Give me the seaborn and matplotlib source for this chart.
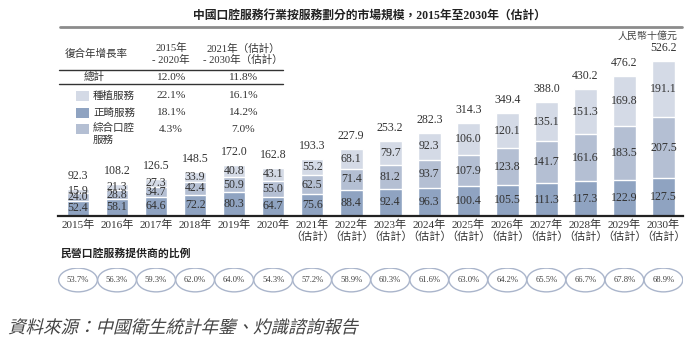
import matplotlib
matplotlib.use("Agg")
import matplotlib.pyplot as plt
import seaborn as sns
import pandas as pd
from matplotlib.patches import Ellipse, Rectangle, PathPatch
from matplotlib.lines import Line2D
from matplotlib.textpath import TextPath
from matplotlib.font_manager import FontProperties
from matplotlib.transforms import Affine2D

# ---- data (RMB billion) ----
years = ["2015年", "2016年", "2017年", "2018年", "2019年", "2020年",
         "2021年\n（估計）", "2022年\n（估計）", "2023年\n（估計）", "2024年\n（估計）",
         "2025年\n（估計）", "2026年\n（估計）", "2027年\n（估計）", "2028年\n（估計）",
         "2029年\n（估計）", "2030年\n（估計）"]
general = [52.4, 58.1, 64.6, 72.2, 80.3, 64.7, 75.6, 88.4, 92.4, 96.3,
           100.4, 105.5, 111.3, 117.3, 122.9, 127.5]
ortho = [24.0, 28.8, 34.7, 42.4, 50.9, 55.0, 62.5, 71.4, 81.2, 93.7,
         107.9, 123.8, 141.7, 161.6, 183.5, 207.5]
implant = [15.9, 21.3, 27.3, 33.9, 40.8, 43.1, 55.2, 68.1, 79.7, 92.3,
           106.0, 120.1, 135.1, 151.3, 169.8, 191.1]
totals = [92.3, 108.2, 126.5, 148.5, 172.0, 162.8, 193.3, 227.9, 253.2, 282.3,
          314.3, 349.4, 388.0, 430.2, 476.2, 526.2]
private_share = ["53.7%", "56.3%", "59.3%", "62.0%", "64.0%", "54.3%", "57.2%", "58.9%",
                 "60.3%", "61.6%", "63.0%", "64.2%", "65.5%", "66.7%", "67.8%", "68.9%"]

cagr_headers = ["2015年\n- 2020年", "2021年（估計）\n- 2030年（估計）"]
cagr_total = ["12.0%", "11.8%"]
segment_names = ["種植服務", "正畸服務", "綜合口腔\n服務"]
cagr_segments = [["22.1%", "16.1%"], ["18.1%", "14.2%"], ["4.3%", "7.0%"]]

C_LIGHT = "#d4dae6"
C_MID = "#b4bfd3"
C_DARK = "#8fa3c1"
seg_colors = [C_LIGHT, C_DARK, C_MID]
TXT = "#333333"

sns.set_theme(style="white")
plt.rcParams["font.family"] = ["Liberation Serif", "Noto Sans CJK TC", "DejaVu Sans"]

W, H = 700, 347
fig = plt.figure(figsize=(W / 100, H / 100), dpi=100)


def fx(px):
    return px / W


def fy(py):
    return 1 - py / H


# ---- stacked bars ----
step = 39.03
x0 = 78.0
base_py = 216.0
scale = 0.2946  # px per unit
top_py = 40.0
ax = fig.add_axes([fx(x0 - step / 2), fy(base_py), fx(16 * step), (base_py - top_py) / H])

df = pd.DataFrame({"year": years, "general": general, "ortho": ortho,
                   "implant": implant, "total": totals})
df["lower2"] = df["general"] + df["ortho"]
df["stack"] = df["lower2"] + df["implant"]

bw = 0.58
sns.barplot(data=df, x="year", y="stack", color=C_LIGHT, saturation=1, width=bw, ax=ax)
sns.barplot(data=df, x="year", y="lower2", color=C_MID, saturation=1, width=bw, ax=ax)
sns.barplot(data=df, x="year", y="general", color=C_DARK, saturation=1, width=bw, ax=ax)

ax.set_xlim(-0.5, 15.5)
ax.set_ylim(0, (base_py - top_py) / scale)
for s in ["top", "right", "left"]:
    ax.spines[s].set_visible(False)
ax.spines["bottom"].set_color("#222222")
ax.spines["bottom"].set_linewidth(1.6)
ax.set_xlabel("")
ax.set_ylabel("")
ax.set_yticks([])
ax.set_xticks(range(16))
ax.set_xticklabels([])
ax.tick_params(axis="x", length=0)

lab_kw = dict(ha="center", va="center", fontsize=8.6, color=TXT)
for i in range(16):
    g, o, im = general[i], ortho[i], implant[i]
    ax.text(i, g / 2, f"{g:.1f}", **lab_kw)
    ax.text(i, g + o / 2, f"{o:.1f}", **lab_kw)
    ax.text(i, g + o + im / 2, f"{im:.1f}", **lab_kw)
    ax.text(i, totals[i] + 13 / scale, f"{totals[i]:.1f}", **lab_kw)
    ax.text(i, -4 / scale, years[i], ha="center", va="top", fontsize=8,
            color=TXT, linespacing=1.05)

# ---- title ----
fig.text(fx(369), fy(16), "中國口腔服務行業按服務劃分的市場規模，2015年至2030年（估計）",
         ha="center", va="center", fontsize=8.5, fontweight="bold", color="#222222")
fig.add_artist(Line2D([fx(60), fx(682)], [fy(27), fy(27)], color="#8c8c8c", lw=2.0))
fig.text(fx(678), fy(36), "人民幣十億元", ha="right", va="center", fontsize=7.2, color="#444444")

# ---- CAGR table ----
tfs = 7.6
fig.text(fx(65), fy(54), "復合年增長率", ha="left", va="center", fontsize=tfs, color=TXT)
col_x = [171, 243]
for cx, hdr in zip(col_x, cagr_headers):
    fig.text(fx(cx), fy(54), hdr, ha="center", va="center", fontsize=tfs,
             color=TXT, linespacing=1.15)
fig.add_artist(Line2D([fx(59), fx(283)], [fy(69.5), fy(69.5)], color="#333333", lw=1.0))
fig.text(fx(94), fy(77), "總計", ha="center", va="center", fontsize=tfs, color=TXT)
for cx, v in zip(col_x, cagr_total):
    fig.text(fx(cx), fy(77), v, ha="center", va="center", fontsize=8.2, color=TXT)
fig.add_artist(Line2D([fx(59), fx(283)], [fy(83.5), fy(83.5)], color="#333333", lw=1.0))

row_y = [96, 113, 129]
for ry, name, col, vals in zip(row_y, segment_names, seg_colors, cagr_segments):
    fig.add_artist(Rectangle((fx(76), fy(ry + 5)), fx(13), 10 / H,
                             facecolor=col, edgecolor="none"))
    if "\n" in name:
        fig.text(fx(93), fy(ry - 6), name, ha="left", va="top", fontsize=tfs,
                 color=TXT, linespacing=1.25)
    else:
        fig.text(fx(93), fy(ry), name, ha="left", va="center", fontsize=tfs, color=TXT)
    for cx, v in zip(col_x, vals):
        fig.text(fx(cx), fy(ry), v, ha="center", va="center", fontsize=8.2, color=TXT)

# ---- private provider share ----
fig.text(fx(60), fy(253), "民營口腔服務提供商的比例", ha="left", va="center",
         fontsize=7.8, fontweight="bold", color="#222222")
ax2 = fig.add_axes([fx(x0 - step / 2), fy(292.5), fx(16 * step), 25 / H])
ax2.set_xlim(-0.5, 15.5)
ax2.set_ylim(0, 1)
ax2.axis("off")
for i, p in enumerate(private_share):
    ax2.add_patch(Ellipse((i, 0.5), 0.99, 0.95, facecolor="white",
                          edgecolor="#aab5cb", lw=1.0))
    ax2.text(i, 0.5, p, ha="center", va="center", fontsize=6.2, color="#444444")

# ---- source note (slanted) ----
src = "資料來源：中國衛生統計年鑒、灼識諮詢報告"
fp = FontProperties(family="Noto Sans CJK TC")
tp = TextPath((0, 0), src, size=12.6 / 72, prop=fp)
tr = Affine2D().skew_deg(14, 0).translate(fx(8) * W / 100, (H - 333) / 100) + fig.dpi_scale_trans
fig.add_artist(PathPatch(tp, transform=tr, facecolor="#444444", edgecolor="none"))

fig.savefig("out.png", dpi=100, facecolor="white")
